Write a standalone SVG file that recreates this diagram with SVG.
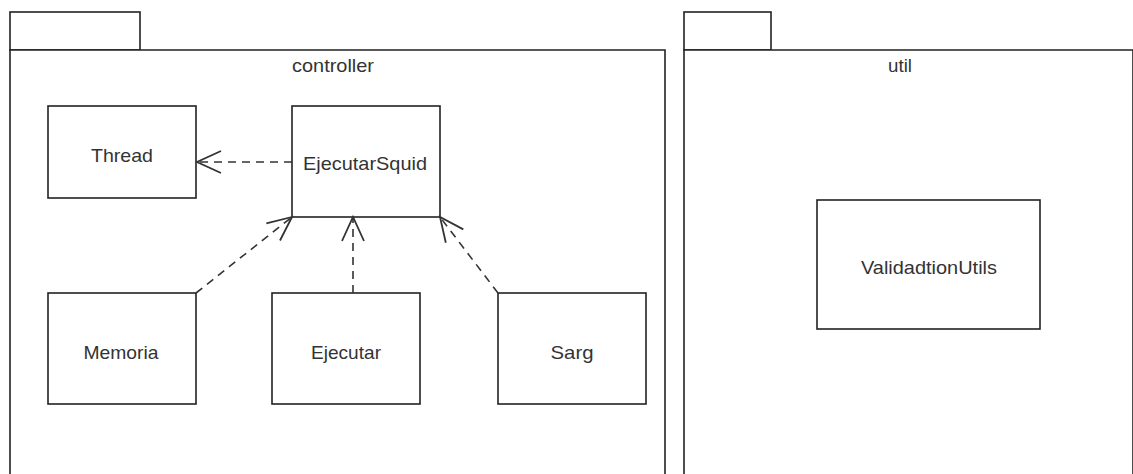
<svg xmlns="http://www.w3.org/2000/svg" width="1133" height="474" viewBox="0 0 1133 474">
<style>
.pk{fill:#fff;stroke:#222;stroke-width:1.6}
.bx{fill:#fff;stroke:#222;stroke-width:1.6}
.t{font-family:"Liberation Sans",Arial,sans-serif;font-size:19px;fill:#333;text-anchor:middle}
.dep{fill:none;stroke:#333;stroke-width:1.6;stroke-dasharray:8,6}
</style>
<defs>
<marker id="open" markerUnits="userSpaceOnUse" viewBox="-27 -14 30 28" refX="0" refY="0" markerWidth="30" markerHeight="28" orient="auto">
<path d="M-24,-11 L0,0 L-24,11" fill="none" stroke="#333" stroke-width="1.8"/>
</marker>
</defs>
<rect width="1133" height="474" fill="#fff"/>
<g id="pkg-controller">
<rect class="pk" x="10" y="12" width="130" height="38"/>
<path class="pk" d="M10,480 L10,50 L665,50 L665,480"/>
<text class="t" x="333" y="72" textLength="82" lengthAdjust="spacingAndGlyphs">controller</text>
</g>
<g id="pkg-util">
<rect class="pk" x="684" y="12" width="87" height="38"/>
<path class="pk" d="M684,480 L684,50 L1133,50 L1133,480"/>
<text class="t" x="900" y="72" textLength="24" lengthAdjust="spacingAndGlyphs">util</text>
</g>
<g id="node-thread">
<rect class="bx" x="48" y="106" width="148" height="92"/>
<text class="t" x="122" y="162" textLength="62" lengthAdjust="spacingAndGlyphs">Thread</text>
</g>
<g id="node-ejecutarsquid">
<rect class="bx" x="292" y="106" width="148" height="111"/>
<text class="t" x="365" y="170" textLength="124" lengthAdjust="spacingAndGlyphs">EjecutarSquid</text>
</g>
<g id="node-memoria">
<rect class="bx" x="48" y="293" width="148" height="111"/>
<text class="t" x="121" y="359" textLength="75" lengthAdjust="spacingAndGlyphs">Memoria</text>
</g>
<g id="node-ejecutar">
<rect class="bx" x="272" y="293" width="148" height="111"/>
<text class="t" x="346" y="359" textLength="70" lengthAdjust="spacingAndGlyphs">Ejecutar</text>
</g>
<g id="node-sarg">
<rect class="bx" x="498" y="293" width="148" height="111"/>
<text class="t" x="572" y="359" textLength="43" lengthAdjust="spacingAndGlyphs">Sarg</text>
</g>
<g id="node-validadtionutils">
<rect class="bx" x="817" y="200" width="223" height="129"/>
<text class="t" x="929" y="274" textLength="136" lengthAdjust="spacingAndGlyphs">ValidadtionUtils</text>
</g>
<g id="connectors">
<line class="dep" x1="292" y1="162" x2="197" y2="162" marker-end="url(#open)"/>
<line class="dep" x1="196" y1="293" x2="292" y2="217" marker-end="url(#open)"/>
<line class="dep" x1="353" y1="293" x2="353" y2="217" marker-end="url(#open)"/>
<line class="dep" x1="498" y1="293" x2="440" y2="217" marker-end="url(#open)"/>
</g>
</svg>
